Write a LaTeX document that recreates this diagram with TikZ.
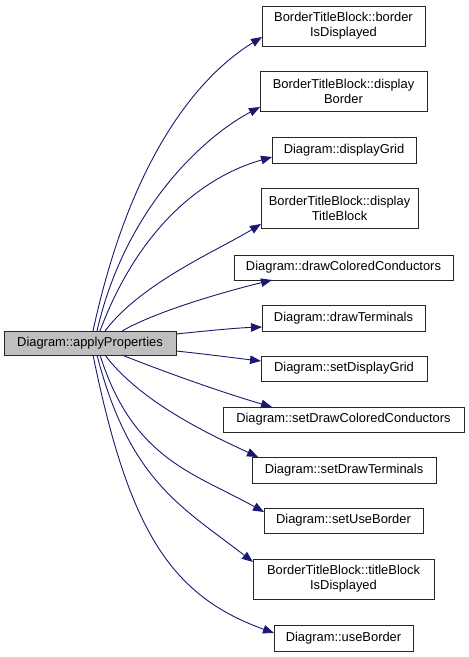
\documentclass[tikz,border=0pt]{standalone}
\usepackage{fontspec}
\setmainfont{Liberation Sans}
\usetikzlibrary{arrows.meta}
\definecolor{edgeblue}{HTML}{191970}
\definecolor{srcgray}{HTML}{BFBFBF}
\begin{document}
\begin{tikzpicture}[x=1pt,y=-1pt,
  fn/.style={draw=black!85, line width=0.9pt, fill=white, inner sep=0pt, outer sep=0pt,
    align=center, font=\fontsize{12.9}{15}\selectfont, minimum height=25pt},
  srcbox/.style={fn, fill=srcgray},
  call/.style={draw=edgeblue, line width=0.9pt, -{Triangle[length=11pt,width=8.5pt]}}]
\useasboundingbox[fill=white] (0,0) rectangle (469,657);

\node[srcbox, minimum width=172pt, minimum height=24pt] (src) at (90,343) {Diagram::applyProperties};

\node[fn, minimum width=163pt, minimum height=40pt] (t1) at (343.5,26) {BorderTitleBlock::border\\IsDisplayed};
\node[fn, minimum width=167pt, minimum height=40pt] (t2) at (343.5,91) {BorderTitleBlock::display\\Border};
\node[fn, minimum width=144pt, minimum height=26pt] (t3) at (344,150) {Diagram::displayGrid};
\node[fn, minimum width=157pt, minimum height=40pt] (t4) at (339.5,208) {BorderTitleBlock::display\\TitleBlock};
\node[fn, minimum width=219pt] (t5) at (343.5,267.5) {Diagram::drawColoredConductors};
\node[fn, minimum width=163pt, minimum height=26pt] (t6) at (343.5,318) {Diagram::drawTerminals};
\node[fn, minimum width=166pt] (t7) at (344,368.5) {Diagram::setDisplayGrid};
\node[fn, minimum width=241pt] (t8) at (343.5,419.5) {Diagram::setDrawColoredConductors};
\node[fn, minimum width=184pt, minimum height=26pt] (t9) at (344,470) {Diagram::setDrawTerminals};
\node[fn, minimum width=159pt] (t10) at (343.5,520.5) {Diagram::setUseBorder};
\node[fn, minimum width=181pt, minimum height=40pt] (t11) at (343.5,579) {BorderTitleBlock::titleBlock\\IsDisplayed};
\node[fn, minimum width=139pt, minimum height=26pt] (t12) at (343.5,638) {Diagram::useBorder};

\draw[call] ([xshift=3pt]src.north) .. controls (129,164) and (194,79) .. ([yshift=-11pt]t1.west);
\draw[call] ([xshift=7pt]src.north) .. controls (126,205) and (207,135) .. ([yshift=-16pt]t2.west);
\draw[call] ([xshift=10pt]src.north) .. controls (135,237) and (195,179) .. ([yshift=-7pt]t3.west);
\draw[call] ([xshift=15pt]src.north) .. controls (141,283) and (218.5,250) .. ([yshift=-16pt]t4.west);
\draw[call] ([xshift=32pt]src.north) .. controls (157,311) and (223.5,292) .. ([xshift=-71.5pt]t5.south);
\draw[call] ([yshift=9pt]src.east) .. controls (205,331) and (235,328) .. ([yshift=-9pt]t6.west);
\draw[call] ([yshift=-8pt]src.east) .. controls (205,354) and (235,358) .. ([yshift=7.5pt]t7.west);
\draw[call] ([xshift=32pt]src.south) .. controls (168.5,373.5) and (224,393) .. ([xshift=-71.5pt]t8.north);
\draw[call] ([xshift=15pt]src.south) .. controls (141,403) and (213,436) .. ([xshift=-86pt]t9.north);
\draw[call] ([xshift=10pt]src.south) .. controls (133,459.5) and (194,473) .. ([yshift=8.5pt]t10.west);
\draw[call] ([xshift=7pt]src.south) .. controls (129.5,481) and (182,507) .. ([yshift=17pt]t11.west);
\draw[call] ([xshift=3pt]src.south) .. controls (129,531) and (170.6,595.6) .. ([yshift=5pt]t12.west);
\end{tikzpicture}
\end{document}
